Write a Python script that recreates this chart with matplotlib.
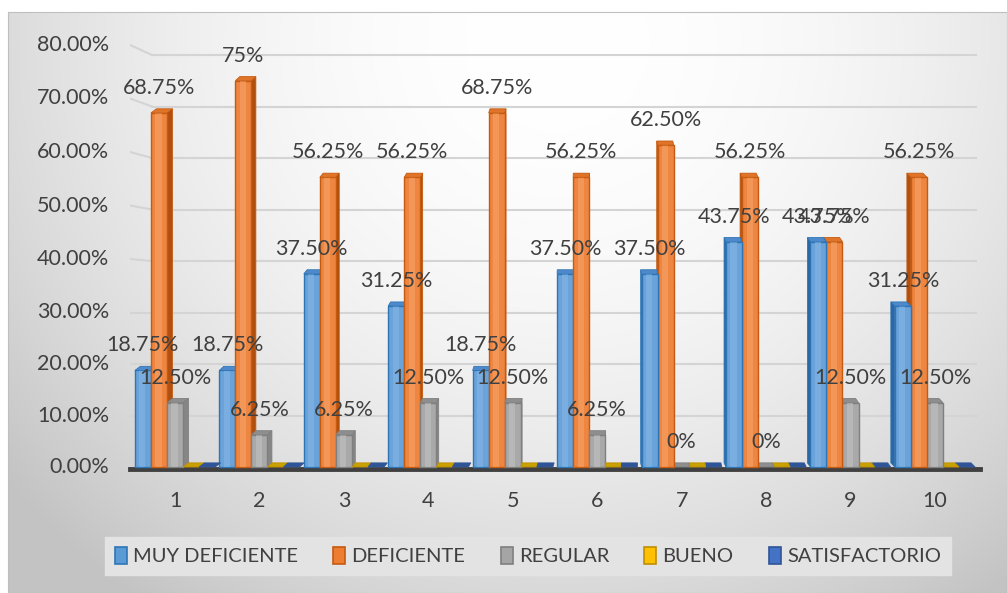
import numpy as np
import matplotlib.pyplot as plt
from matplotlib.patches import Polygon, Rectangle, Patch

plt.rcParams['font.family'] = ['Lato', 'DejaVu Sans']

# datos
categories = ['1', '2', '3', '4', '5', '6', '7', '8', '9', '10']
series_names = ['MUY DEFICIENTE', 'DEFICIENTE', 'REGULAR', 'BUENO', 'SATISFACTORIO']
muy_deficiente = [18.75, 18.75, 37.50, 31.25, 18.75, 37.50, 37.50, 43.75, 43.75, 31.25]
deficiente = [68.75, 75.00, 56.25, 56.25, 68.75, 56.25, 62.50, 56.25, 43.75, 56.25]
regular = [12.50, 6.25, 6.25, 12.50, 12.50, 6.25, 0, 0, 12.50, 12.50]
bueno = [0, 0, 0, 0, 0, 0, 0, 0, 0, 0]
satisfactorio = [0, 0, 0, 0, 0, 0, 0, 0, 0, 0]
y_ticks = [0, 10, 20, 30, 40, 50, 60, 70, 80]

series = [muy_deficiente, deficiente, regular, bueno, satisfactorio]
show_label = [True, True, True, False, False]

# colores: cara, brillo, borde, lado, tapa
colores = [
    ('#6AA3DA', '#86B7E6', '#2E75B6', '#2C66A3', '#4E8ACB'),
    ('#EE8540', '#F6A468', '#C55A11', '#B14F0E', '#E07428'),
    ('#A9A9A9', '#C2C2C2', '#7F7F7F', '#868686', '#8E8E8E'),
    ('#FFC000', '#FFD040', '#BF9000', '#A87F00', '#C9A100'),
    ('#4472C4', '#5B86D0', '#2F5597', '#2A4C88', '#2F5597'),
]
legend_colors = ['#5B9BD5', '#ED7D31', '#A5A5A5', '#FFC000', '#4472C4']
legend_edges = ['#2E75B6', '#C55A11', '#7F7F7F', '#BF9000', '#2F5597']
text_color = '#404040'
fs = 15.5

W, H = 1007, 593
fig = plt.figure(figsize=(W / 100, H / 100), dpi=100)

# fondo con degradado
bg = fig.add_axes([8 / W, 0, 1 - 8 / W, 1 - 12 / H])
yy, xx = np.mgrid[0:1:300j, 0:1:500j]
r2 = ((xx - 0.55) / 0.6) ** 2 + ((yy - 0.05) / 1.0) ** 2
gris = np.clip(255 - 42 * r2, 195, 255) / 255
bg.imshow(np.dstack([gris, gris, gris]), aspect='auto', extent=[0, 1, 0, 1], origin='upper')
bg.set_xticks([])
bg.set_yticks([])
for s in bg.spines.values():
    s.set_color('#BFBFBF')

# ejes del grafico
px_per = 84.44
xmin = 1 - 45 / px_per
xmax = xmin + 850 / px_per
ax = fig.add_axes([130 / W, 1 - 467 / H, 850 / W, 427 / H])
ax.set_xlim(xmin, xmax)
ax.set_ylim(0, 427 / 5.15)
ax.patch.set_alpha(0)
for s in ax.spines.values():
    s.set_visible(False)

# lineas de division con perspectiva
x_grid = xmin + 22 / px_per
for t in y_ticks:
    d = max(0, t - 30) * 0.2 / 5.15
    if t > 0:
        ax.plot([x_grid, xmax - 0.05], [t, t], color='#D4D4D4', lw=1.5, zorder=1)
        ax.plot([xmin, x_grid], [t + d, t], color='#D4D4D4', lw=1.5, zorder=1)
    ax.annotate(f'{t:.2f}%', xy=(xmin, t + d), xytext=(-15, 0), textcoords='offset points',
                ha='right', va='center', fontsize=fs, color=text_color, annotation_clip=False)
ax.plot([xmin, xmax], [-0.4, -0.4], color='#404040', lw=3.5, zorder=2, clip_on=False)

x = np.arange(1, len(categories) + 1)
w = 0.19
dy = 0.8


def fmt(v):
    return f'{v:.0f}%' if float(v).is_integer() else f'{v:.2f}%'


for g, xc_g in enumerate(x):
    sx = 0.065 * (6.2 - xc_g) / 5.2
    orden = range(5) if sx >= 0 else range(4, -1, -1)
    for k, i in enumerate(orden):
        v = series[i][g]
        cara, brillo, borde, lado, tapa = colores[i]
        xc = xc_g + (i - 2) * w
        x0, x1 = xc - w / 2, xc + w / 2
        z = 3 + k * 0.1
        if v > 0:
            xs = x1 if sx >= 0 else x0
            ax.add_patch(Polygon([(xs, 0), (xs + sx, dy), (xs + sx, v + dy), (xs, v)],
                                 fc=lado, ec=borde, lw=0.6, zorder=z, clip_on=False))
            ax.add_patch(Rectangle((x0, 0), w, v, fc=cara, ec=borde, lw=1, zorder=z + 0.01, clip_on=False))
            ax.add_patch(Rectangle((x0 + w * 0.28, 0), w * 0.38, v, fc=brillo, ec='none',
                                   alpha=0.6, zorder=z + 0.02, clip_on=False))
        ax.add_patch(Polygon([(x0, v), (x1, v), (x1 + sx, v + dy), (x0 + sx, v + dy)],
                             fc=tapa, ec=borde, lw=0.6, zorder=z + 0.03, clip_on=False))

# etiquetas de datos
for i, vals in enumerate(series):
    if not show_label[i]:
        continue
    for g, v in enumerate(vals):
        ax.annotate(fmt(v), xy=(x[g] + (i - 2) * w, v), xytext=(0, 18), textcoords='offset points',
                    ha='center', va='center', fontsize=fs, color=text_color, zorder=10,
                    annotation_clip=False)

ax.set_xticks(x)
ax.set_xticklabels(categories, fontsize=fs, color=text_color)
ax.tick_params(axis='x', length=0, pad=17)
ax.set_yticks([])

handles = [Patch(facecolor=c, edgecolor=e, lw=1.2) for c, e in zip(legend_colors, legend_edges)]
leg = fig.legend(handles, series_names, loc='center', bbox_to_anchor=(528 / W, 1 - 556 / H), ncol=5,
                 fontsize=14.5, frameon=True, fancybox=False, facecolor='#E3E3E3', edgecolor='#E3E3E3',
                 handlelength=0.6, handleheight=0.9, handletextpad=0.3, columnspacing=1.75,
                 borderpad=0.5, framealpha=1)
for t in leg.get_texts():
    t.set_color(text_color)

fig.savefig('out.png', dpi=100)
